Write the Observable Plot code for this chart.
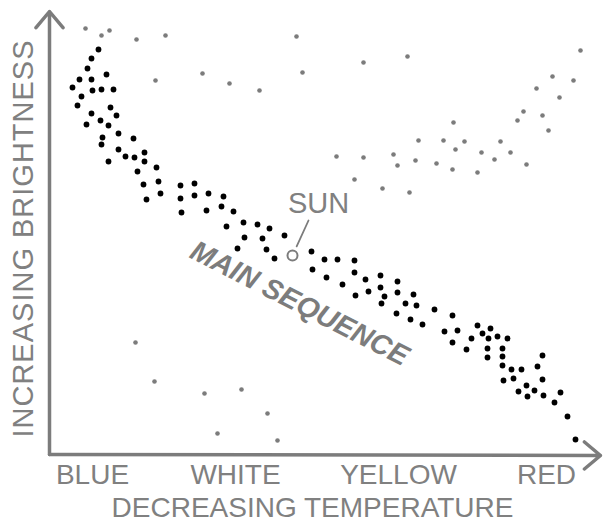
<!DOCTYPE html>
<html>
<head>
<meta charset="utf-8">
<script src="https://cdn.jsdelivr.net/npm/d3@7"></script>
<script src="https://cdn.jsdelivr.net/npm/@observablehq/plot@0.6"></script>
<style>
  html, body { margin: 0; padding: 0; background: #fff; }
  #chart { width: 606px; height: 527px; }
</style>
</head>
<body>
<div id="chart"></div>
<script>
// Hertzsprung–Russell sketch: [temperature index (0 = hot/blue → 110 = cool/red), brightness index]
const giants = [
  [7.0,106.5],[10.2,104.75],[11.8,106],[17.2,103.75],[23,104.75],[49.2,104.5],
  [21,93.5],[30.4,95.25],[35.8,92.75],[41.8,91],[50.4,95.5],[62.6,98],[71.4,99.5],
  [106,101],[100.4,94.5],[104.6,93.5],[97.2,91.5],[101.8,89.25],[94.6,85.75],[93.4,83.5],
  [98.4,84.75],[99.6,81],[80.6,83],[73.6,78.5],[78.6,78.5],[82.8,78.25],[90,78.25],
  [81,76.25],[86.2,75.5],[92,75.5],[57.2,74.5],[62.6,74.25],[68.6,75],[69.4,72.25],
  [73,73.5],[77.2,72.75],[80.4,71.25],[85.4,70.5],[88.8,73.75],[95.2,72.5],
  [60.8,68.75],[66.4,66.5],[71.8,65.5]
];
const whiteDwarfs = [
  [17,28],[20.8,18.25],[30.8,15.25],[38.2,16.25],[43.4,10.25],[33.4,5.25],[45.4,3.5]
];
const mainSequence = [
  [9.6,101.25],[8.2,99],[7.4,96.5],[11.2,95],[5.8,93.75],[8.2,93.75],[4.4,91.75],[8.4,91],
  [10.2,91.25],[12.6,91.25],[6.2,89.5],[5.4,87.25],[12,86.75],[8.2,85.25],[13.2,84.75],
  [10,83.5],[7.2,82.5],[11.6,82.25],[13.6,80.25],[10.4,79.25],[16.6,79],[10.2,77.5],
  [13.6,76.25],[15,74.5],[16.8,74.25],[18.8,75.5],[18.8,73.25],[11.6,73.25],[21.2,71.75],
  [17.4,70.75],[21.6,68.25],[18.6,67.5],[19.2,63.75],[22,65.25],[26,67.25],[28.8,67.75],
  [26,64],[28.8,64.75],[31.6,65.25],[34.6,64.5],[26.2,60.5],[31.2,61],[34.2,62],[36.6,60.75],
  [35.2,57],[38.6,58],[41.4,57.5],[43.8,56.5],[38.8,54.25],[42.4,54],[46.8,54.75],[37.4,51.5],
  [43.2,51.25],[44.8,49],[52.2,50.75],[54.8,48.75],[57.4,48.75],[60.8,48.5],[52.4,46.25],
  [55.2,44.25],[60.8,45.5],[63,43.75],[66,44.75],[69.4,43.25],[58.4,42.5],[63.6,40.75],
  [66,41.75],[66.8,39.5],[69.4,40.5],[72.6,40],[61,39.75],[66.2,37.75],[71,37.75],[73.2,37.25],
  [69.2,35.25],[72,33.75],[74.4,32.5],[76.8,36.25],[80.4,34.75],[78.8,30.75],[81.4,31],
  [80.4,28],[83.2,26.25],[84.2,29],[85.4,32.25],[86.4,30.25],[88,31.5],[87.6,29],[89.4,29.5],
  [91.4,29],[87.4,26.5],[87.4,24.25],[90.4,26.5],[90.4,24.5],[90.4,22.25],[92.2,21.25],
  [94.2,21.25],[98.4,24.75],[97.4,22],[98.4,18.75],[90.6,18.5],[92.6,19],[95.2,17.25],
  [96.8,16],[93.6,15.75],[95.4,14.5],[98.6,14.75],[102,15.5],[100.8,13],[103.4,9.5],[105,3.75]
];
const sun = [[48.4, 49.75]];
const colorNames = ["BLUE", "WHITE", "YELLOW", "RED"];
const colorTemps = [8.4, 37, 69.6, 99.2];
const axes = [
  {x1: -0.2, y1: 0, x2: -0.2, y2: 110.75},
  {x1: -0.2, y1: 0, x2: 110, y2: -0.25}
];

const GRAY = "#7c7c7c";
const TEXT = "#808080";

const chart = Plot.plot({
  width: 606,
  height: 527,
  marginLeft: 50,
  marginRight: 6,
  marginTop: 14,
  marginBottom: 73,
  x: {domain: [0, 110], axis: null},
  y: {domain: [0, 110], axis: null},
  style: {fontFamily: "'Liberation Sans', Arial, sans-serif", background: "#fff", overflow: "visible"},
  marks: [
    Plot.arrow(axes, {x1: "x1", y1: "y1", x2: "x2", y2: "y2", stroke: GRAY, strokeWidth: 3.5, headLength: 9, headAngle: 80}),
    Plot.dot(giants, {x: d => d[0], y: d => d[1], r: 2.3, fill: GRAY}),
    Plot.dot(whiteDwarfs, {x: d => d[0], y: d => d[1], r: 2.3, fill: GRAY}),
    Plot.dot(mainSequence, {x: d => d[0], y: d => d[1], r: 2.9, fill: "#000"}),
    Plot.arrow(sun, {x1: d => d[0], y1: d => d[1], x2: d => d[0] + 3.2, y2: d => d[1] + 8.75, insetStart: 10, headLength: 0, stroke: GRAY, strokeWidth: 1.8}),
    Plot.dot(sun, {x: d => d[0], y: d => d[1], r: 5, stroke: GRAY, strokeWidth: 2, fill: "#fff"}),
    Plot.text(sun, {x: d => d[0], y: d => d[1], text: () => "SUN", dx: 26, dy: -52, fontSize: 29, fill: TEXT, lineAnchor: "middle"}),
    Plot.text(sun, {x: d => d[0], y: d => d[1], text: () => "MAIN SEQUENCE", dx: 7, dy: 48, rotate: 27, fontSize: 28.5, fontWeight: "bold", fontStyle: "italic", fill: GRAY, lineAnchor: "middle"}),
    Plot.text(colorNames, {x: (d, i) => colorTemps[i], text: d => d, frameAnchor: "bottom", dy: 21, fontSize: 28, fill: TEXT, lineAnchor: "middle"}),
    Plot.text(["DECREASING TEMPERATURE"], {frameAnchor: "bottom", text: d => d, dx: -13, dy: 54, fontSize: 28, fill: TEXT, textAnchor: "middle", lineAnchor: "middle"}),
    Plot.text(["INCREASING BRIGHTNESS"], {frameAnchor: "left", text: d => d, dx: -27, dy: 4, rotate: -90, fontSize: 29, fill: TEXT, textAnchor: "middle", lineAnchor: "middle"})
  ]
});
chart.querySelectorAll("text").forEach(t => {
  if (t.textContent === "INCREASING BRIGHTNESS") t.setAttribute("letter-spacing", "1");
});
document.getElementById("chart").appendChild(chart);
</script>
</body>
</html>
